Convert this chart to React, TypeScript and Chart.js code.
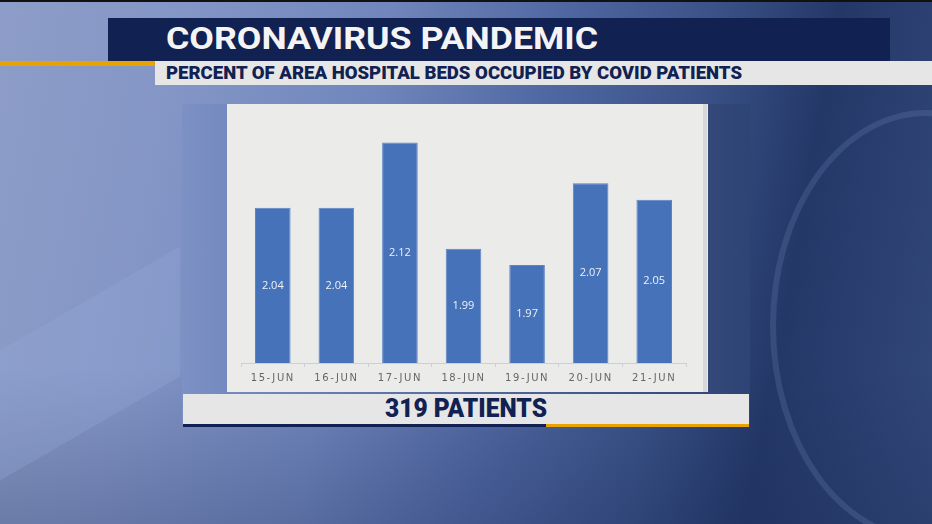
import React, { useEffect, useLayoutEffect, useRef } from "react";
import { Chart, registerables } from "chart.js";

Chart.register(...registerables);

const categories = ["15-JUN", "16-JUN", "17-JUN", "18-JUN", "19-JUN", "20-JUN", "21-JUN"];
const values = [2.04, 2.04, 2.12, 1.99, 1.97, 2.07, 2.05];
const yMin = 1.85;
const yMax = 2.15;
const titleText = "CORONAVIRUS PANDEMIC";
const subtitleText = "PERCENT OF AREA HOSPITAL BEDS OCCUPIED BY COVID PATIENTS";
const footerText = "319 PATIENTS";

function FitText(props: { text: string; left: number; top: number; width: number; size: number; color: string; weight?: number }) {
  const ref = useRef<HTMLSpanElement>(null);
  useLayoutEffect(() => {
    const el = ref.current;
    if (!el) return;
    el.style.transform = "none";
    const w = el.getBoundingClientRect().width;
    if (w > 0) el.style.transform = `scaleX(${props.width / w})`;
  }, [props.text, props.width]);
  return (
    <span
      ref={ref}
      style={{
        position: "absolute",
        left: props.left,
        top: props.top,
        fontFamily: "Roboto, 'Noto Sans', sans-serif",
        fontWeight: props.weight ?? 700,
        fontSize: props.size,
        lineHeight: 1,
        color: props.color,
        whiteSpace: "nowrap",
        transformOrigin: "left top",
        display: "inline-block",
      }}
    >
      {props.text}
    </span>
  );
}

function BarChart() {
  const ref = useRef<HTMLCanvasElement>(null);
  useEffect(() => {
    const canvas = ref.current;
    if (!canvas) return;
    const valueLabels = {
      id: "valueLabels",
      beforeDraw(chart: any) {
        chart.ctx.letterSpacing = "1.6px";
      },
      afterDatasetsDraw(chart: any) {
        const ctx = chart.ctx;
        const bottom = chart.chartArea.bottom;
        const meta = chart.getDatasetMeta(0);
        ctx.save();
        ctx.letterSpacing = "0px";
        ctx.font = "11px 'Open Sans', sans-serif";
        ctx.fillStyle = "#eef2f9";
        ctx.textAlign = "center";
        ctx.textBaseline = "middle";
        for (let i = 0; i < meta.data.length; i++) {
          const bar: any = meta.data[i];
          const base = Math.min(bar.base, bottom);
          ctx.fillText(values[i].toFixed(2), bar.x, (bar.y + base) / 2);
        }
        ctx.restore();
      },
    };
    const chart = new Chart(canvas, {
      type: "bar",
      data: {
        labels: categories,
        datasets: [
          {
            data: values,
            backgroundColor: "#4672ba",
            borderColor: "#5b84c4",
            borderWidth: 1,
            barPercentage: 0.56,
            categoryPercentage: 1,
          },
        ],
      },
      options: {
        responsive: false,
        animation: false,
        devicePixelRatio: 1,
        layout: { padding: { left: 14, right: 17, top: 14, bottom: 2 } },
        plugins: { legend: { display: false }, tooltip: { enabled: false } },
        scales: {
          y: { display: false, min: yMin, max: yMax },
          x: {
            grid: { drawOnChartArea: false, drawTicks: true, tickLength: 4, color: "#cfcfcf", offset: true },
            border: { color: "#cfcfcf" },
            ticks: {
              color: "#666666",
              padding: 5,
              maxRotation: 0,
              font: { family: "'DejaVu Sans', sans-serif", size: 10, weight: "normal" },
            },
          },
        },
      },
      plugins: [valueLabels],
    });
    return () => chart.destroy();
  }, []);
  return <canvas ref={ref} width={476} height={287} style={{ position: "absolute", left: 227, top: 104, width: 476, height: 287 }} />;
}

export default function App() {
  return (
    <div
      style={{
        position: "fixed",
        left: 0,
        top: 0,
        width: 932,
        height: 524,
        overflow: "hidden",
        background:
          "linear-gradient(180deg, rgba(20,30,60,0) 0%, rgba(20,30,60,0) 70%, rgba(20,35,80,0.25) 100%), linear-gradient(100deg, #8d9dc8 0%, #8496c6 18%, #7086bc 38%, #5068a2 55%, #3a5287 70%, #243868 82%, #33497a 100%)",
      }}
    >
      {/* decorative background shapes */}
      <div style={{ position: "absolute", left: -40, top: 310, width: 220, height: 130, background: "rgba(150,170,215,0.3)", transform: "skewY(-30deg)" }} />
      <div style={{ position: "absolute", left: 770, top: 110, width: 300, height: 420, borderRadius: "50%", border: "6px solid rgba(120,145,190,0.22)" }} />
      <div style={{ position: "absolute", left: 0, top: 0, width: 932, height: 2, background: "#111" }} />

      {/* title bar */}
      <div style={{ position: "absolute", left: 108, top: 18, width: 782, height: 43, background: "#112152" }} />
      <div style={{ position: "absolute", left: 0, top: 61, width: 155, height: 5, background: "#e8a300" }} />
      <div style={{ position: "absolute", left: 155, top: 61, width: 777, height: 24, background: "#e6e6e6" }} />
      <FitText text={titleText} left={166} top={23} width={432} size={31} color="#f4f4f4" />
      <FitText text={subtitleText} left={166} top={65} width={576} size={17.5} color="#112152" weight={900} />

      {/* chart panel */}
      <div style={{ position: "absolute", left: 182, top: 104, width: 568, height: 321, background: "linear-gradient(90deg, #7d91c4 0%, #7489bf 8%, #34497a 92%, #2e4474 100%)" }} />
      <div style={{ position: "absolute", left: 227, top: 104, width: 481, height: 288, background: "#ebebea" }} />
      <div style={{ position: "absolute", left: 703, top: 104, width: 4, height: 288, background: "#d8d8d8" }} />
      <BarChart />

      {/* footer bar */}
      <div style={{ position: "absolute", left: 183, top: 394, width: 566, height: 30, background: "#e6e6e6" }} />
      <div style={{ position: "absolute", left: 183, top: 424, width: 566, height: 3, background: "#112152" }} />
      <div style={{ position: "absolute", left: 546, top: 424, width: 203, height: 3, background: "#e8a300" }} />
      <FitText text={footerText} left={385} top={395} width={162} size={26} color="#112152" weight={900} />
    </div>
  );
}
